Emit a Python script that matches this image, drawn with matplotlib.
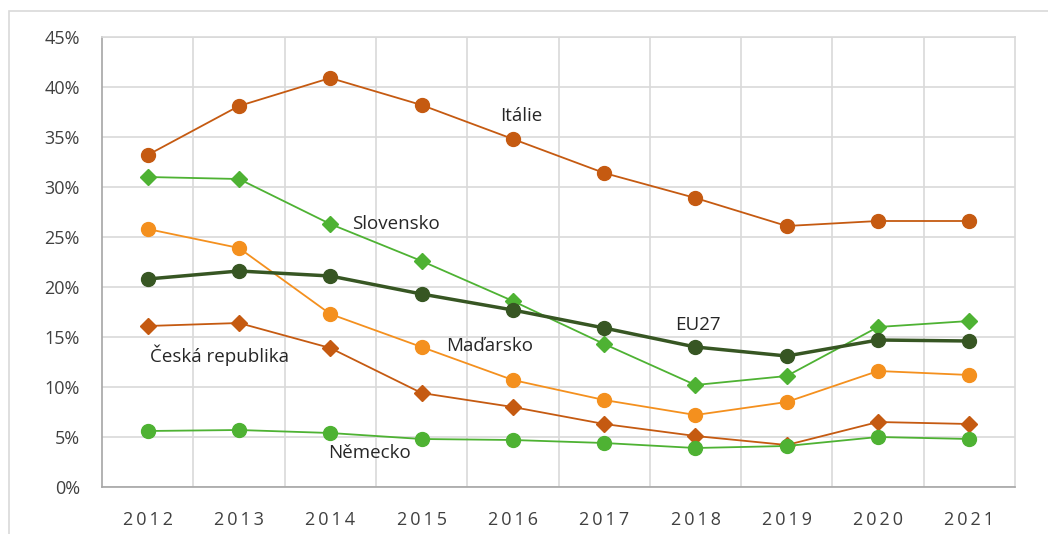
import matplotlib.pyplot as plt
from matplotlib.patches import Rectangle
from matplotlib.ticker import PercentFormatter

plt.rcParams['font.family'] = ['Open Sans', 'DejaVu Sans']

years = ['2012', '2013', '2014', '2015', '2016', '2017', '2018', '2019', '2020', '2021']
italie = [33.2, 38.1, 40.9, 38.2, 34.8, 31.4, 28.9, 26.1, 26.6, 26.6]
slovensko = [31.0, 30.8, 26.3, 22.6, 18.6, 14.3, 10.2, 11.1, 16.0, 16.6]
madarsko = [25.8, 23.9, 17.3, 14.0, 10.7, 8.7, 7.2, 8.5, 11.6, 11.2]
eu27 = [20.8, 21.6, 21.1, 19.3, 17.7, 15.9, 14.0, 13.1, 14.7, 14.6]
cesko = [16.1, 16.4, 13.9, 9.4, 8.0, 6.3, 5.1, 4.2, 6.5, 6.3]
nemecko = [5.6, 5.7, 5.4, 4.8, 4.7, 4.4, 3.9, 4.1, 5.0, 4.8]

dark_orange = '#C55A11'
orange = '#F4901E'
green = '#4EB233'
dark_green = '#375623'

fig = plt.figure(figsize=(10.48, 5.34), dpi=100)
# vnější rámeček
fig.patches.append(Rectangle((9 / 1048, -0.1), 1.2, 1 - 11 / 534 + 0.1,
                             transform=fig.transFigure, fill=False,
                             edgecolor='#D9D9D9', linewidth=1.2))
ax = fig.add_axes([102 / 1048, 1 - 487 / 534, (1015 - 102) / 1048, (487 - 37) / 534])

x = range(len(years))
ax.plot(x, italie, color=dark_orange, lw=1.3, marker='o', ms=10, zorder=3)
ax.plot(x, slovensko, color=green, lw=1.3, marker='D', ms=8.5, zorder=3)
ax.plot(x, madarsko, color=orange, lw=1.3, marker='o', ms=10, zorder=3)
ax.plot(x, eu27, color=dark_green, lw=2.5, marker='o', ms=10, zorder=4)
ax.plot(x, cesko, color=dark_orange, lw=1.3, marker='D', ms=8.5, zorder=3)
ax.plot(x, nemecko, color=green, lw=1.3, marker='o', ms=10, zorder=3)

# popisky řad
label_kw = dict(fontsize=13.5, color='#262626', zorder=5, va='center', ha='left')
ax.text(3.86, 37.1, 'Itálie', **label_kw)
ax.text(2.24, 26.3, 'Slovensko', **label_kw)
ax.text(3.27, 14.1, 'Maďarsko', **label_kw)
ax.text(5.78, 16.2, 'EU27', **label_kw)
ax.text(0.03, 13.2, 'Česká republika', **label_kw)
ax.text(1.98, 3.4, 'Německo', **label_kw)

ax.set_xlim(-0.5, len(years) - 0.5)
ax.set_ylim(0, 45)
ax.set_xticks(list(x))
ax.set_xticklabels(['\u2009'.join(y) for y in years], fontsize=13, color='#404040')
ax.set_yticks(range(0, 46, 5))
ax.yaxis.set_major_formatter(PercentFormatter(decimals=0))
ax.tick_params(axis='y', labelsize=13, colors='#404040', length=0, pad=16)
ax.tick_params(axis='x', length=0, pad=17)

ax.set_xticks([i + 0.5 for i in range(len(years) - 1)], minor=True)
ax.grid(which='major', axis='y', color='#D9D9D9', lw=1.2)
ax.grid(which='minor', axis='x', color='#D9D9D9', lw=1.2)
ax.tick_params(which='minor', length=0)
for s in ['top', 'right']:
    ax.spines[s].set_color('#D9D9D9')
    ax.spines[s].set_linewidth(1.2)
for s in ['left', 'bottom']:
    ax.spines[s].set_color('#A6A6A6')
    ax.spines[s].set_linewidth(1.2)

fig.savefig('out.png', dpi=100)
